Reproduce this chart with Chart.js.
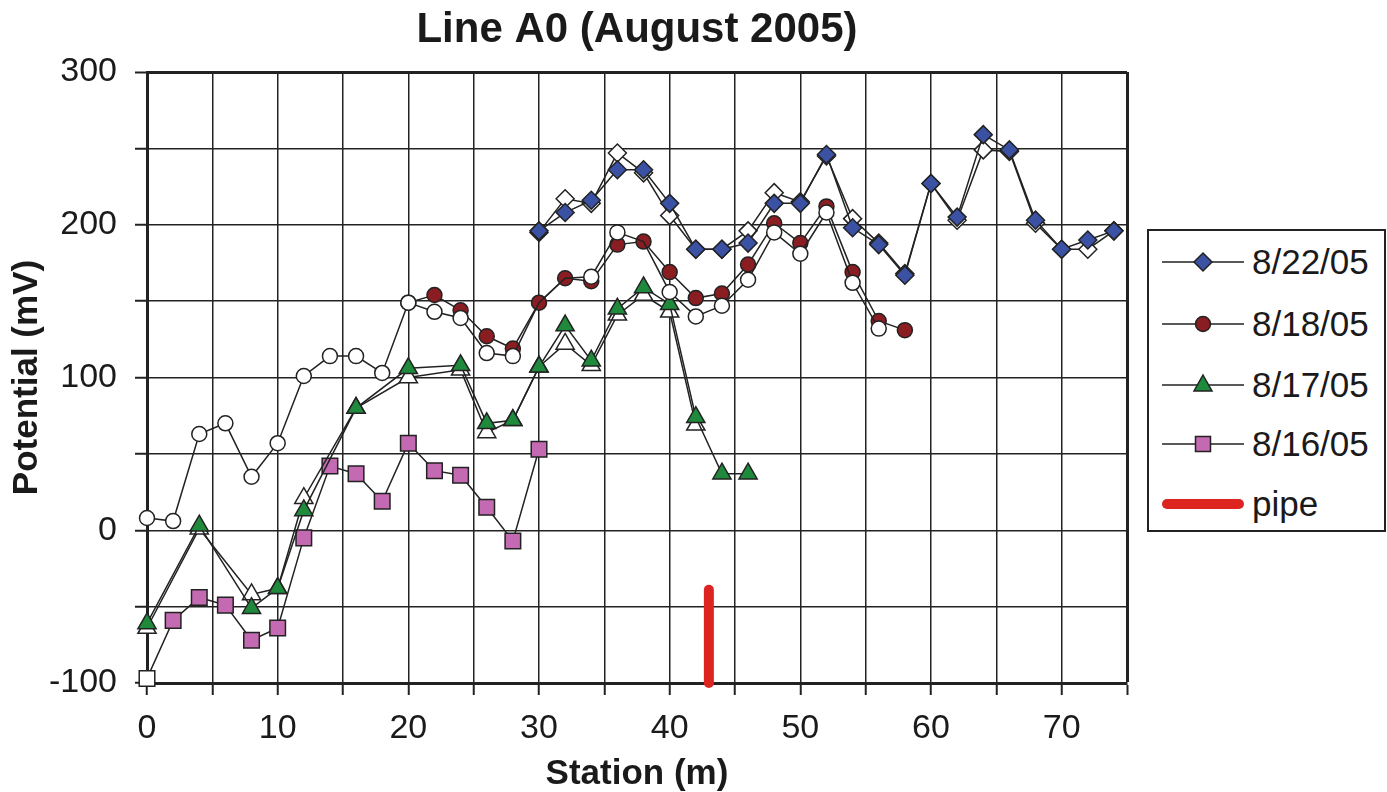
<!DOCTYPE html>
<html>
<head>
<meta charset="utf-8">
<script src="https://cdn.jsdelivr.net/npm/chart.js@4.4.1/dist/chart.umd.min.js"></script>
<style>
  html, body { margin: 0; padding: 0; background: #ffffff; }
  #wrap { position: relative; width: 1387px; height: 792px; }
  #legend {
    position: absolute; left: 1147px; top: 229px; width: 235px; height: 299px;
    border: 2px solid #222; background: #fff;
    font-family: "Liberation Sans", Arial, sans-serif; font-size: 35px; color: #1a1a1a;
  }
  .item { position: absolute; left: 0; height: 40px; display: flex; align-items: center; }
  .item svg { margin-left: 13px; }
  .item span { margin-left: 8px; line-height: 40px; }
</style>
</head>
<body>
<div id="wrap">
  <canvas id="c" width="1387" height="792"></canvas>
  <div id="legend"></div>
</div>
<script>
// ---- Data ----
const chartTitle = "Line A0 (August 2005)";
const xTitle = "Station (m)";
const yTitle = "Potential (mV)";

// 8/22/05 (blue diamonds) and repeat (white diamonds)
const stations22 = [30,32,34,36,38,40,42,44,46,48,50,52,54,56,58,60,62,64,66,68,70,72,74];
const potential22 = [196,208,216,236,236,214,184,184,188,214,214,246,198,187,167,227,205,259,249,203,184,190,196];
const potential22r = [195,217,214,247,234,206,184,184,196,221,215,245,204,188,168,227,203,249,248,201,184,184,196];

// 8/18/05 (dark red circles) and repeat (white circles)
const stations18 = [20,22,24,26,28,30,32,34,36,38,40,42,44,46,48,50,52,54,56,58];
const potential18 = [149,154,144,127,119,149,165,163,187,189,169,152,155,174,201,188,212,169,137,131];
const stations18r = [0,2,4,6,8,10,12,14,16,18,20,22,24,26,28,30,32,34,36,38,40,42,44,46,48,50,52,54,56];
const potential18r = [8,6,63,70,35,57,101,114,114,103,149,143,139,116,114,149,165,166,195,189,156,140,147,164,195,181,208,162,132];

// 8/17/05 (green triangles) and repeat (white triangles)
const stations17 = [0,4,8,10,12,16,20,24,26,28,30,32,34,36,38,40,42,44,46];
const potential17 = [-61,3,-51,-38,13,80,106,108,70,72,107,134,111,145,159,148,74,37,37];
const stations17r = [0,4,8,10,12,16,20,24,26,28,30,32,34,36,38,40,42];
const potential17r = [-64,1,-42,-38,21,80,100,105,64,72,107,122,108,141,154,143,69];

// 8/16/05 (pink squares); first station plotted with a white marker
const stations16 = [0,2,4,6,8,10,12,14,16,18,20,22,24,26,28,30];
const potential16 = [-97,-59,-44,-49,-72,-64,-5,42,37,19,57,39,36,15,-7,53];

// pipe location
const pipeStations = [43,43];
const pipePotential = [-100,-39];

const legendLabels = ["8/22/05","8/18/05","8/17/05","8/16/05","pipe"];

// ---- Styles ----
const BLUE = "#3a51a4", RED = "#8a1d22", GREEN = "#1f8a3c", PINK = "#c46ab2", PIPE = "#dd2420";
const INK = "#222222";
const FONT = "'Liberation Sans', Arial, sans-serif";
// stations where the white repeat circle marker is not drawn (red shows through)
const noMarker18r = [30, 32, 38];

function pts(xs, ys) { return xs.map((x, i) => ({ x: x, y: ys[i] })); }

function series(label, xs, ys, style, fill, radius) {
  return {
    label: label,
    data: pts(xs, ys),
    showLine: true,
    borderColor: INK,
    borderWidth: 1.5,
    pointStyle: style,
    pointRadius: radius,
    pointHoverRadius: radius,
    pointBackgroundColor: fill,
    pointBorderColor: INK,
    pointBorderWidth: 1.5,
    clip: false
  };
}

const white18 = series("8/18/05 repeat", stations18r, potential18r, "circle", "#ffffff", 7.5);
white18.pointRadius = stations18r.map(s => (noMarker18r.includes(s) ? 0 : 7.5));

const datasets = [
  series("8/22/05", stations22, potential22, "rectRot", BLUE, 9),
  series("8/22/05 repeat", stations22, potential22r, "rectRot", "#ffffff", 9),
  white18,
  series("8/18/05", stations18, potential18, "circle", RED, 7.5),
  series("8/17/05", stations17, potential17, "triangle", GREEN, 10.5),
  series("8/17/05 repeat", stations17r, potential17r, "triangle", "#ffffff", 10.5),
  Object.assign(series("8/16/05", stations16, potential16, "rect", PINK, 11),
    { pointBackgroundColor: stations16.map((s, i) => i === 0 ? "#ffffff" : PINK) }),
  {
    label: "pipe",
    data: pts(pipeStations, pipePotential),
    showLine: true,
    borderColor: PIPE,
    borderWidth: 10,
    borderCapStyle: "round",
    pointRadius: 0,
    clip: false
  }
];

new Chart(document.getElementById("c"), {
  type: "scatter",
  data: { datasets: datasets },
  options: {
    responsive: false,
    animation: false,
    events: [],
    layout: { padding: { left: 0, right: 260, top: 0, bottom: 0 } },
    plugins: {
      legend: { display: false },
      tooltip: { enabled: false },
      title: {
        display: true,
        text: chartTitle,
        fullSize: false,
        color: "#1a1a1a",
        font: { family: FONT, size: 42, weight: "bold", lineHeight: 1.2 },
        padding: { top: 5, bottom: 16.6 }
      }
    },
    scales: {
      x: {
        type: "linear",
        min: 0, max: 75,
        afterFit: s => { s.height = 109; },
        ticks: {
          stepSize: 5, autoSkip: false, maxRotation: 0,
          color: "#1a1a1a", padding: 13,
          font: { family: FONT, size: 34 },
          callback: v => (v % 10 === 0 ? String(v) : "")
        },
        grid: {
          color: INK, tickColor: INK, tickLength: 12, tickWidth: 2,
          lineWidth: ctx => (ctx.tick && ctx.tick.value === 75 ? 3 : 1.5)
        },
        border: { color: INK, width: 3 },
        title: {
          display: true, text: xTitle, color: "#1a1a1a",
          font: { family: FONT, size: 35, weight: "bold", lineHeight: 1.0 },
          padding: { top: 0, bottom: 0 }
        }
      },
      y: {
        type: "linear",
        min: -100, max: 300,
        afterFit: s => { s.width = 147; },
        ticks: {
          stepSize: 50, autoSkip: false,
          color: "#1a1a1a", padding: 18,
          font: { family: FONT, size: 34 },
          callback: v => (v % 100 === 0 ? String(v) : "")
        },
        grid: {
          color: INK, tickColor: INK, tickLength: 12, tickWidth: 2,
          lineWidth: ctx => (ctx.tick && ctx.tick.value === 300 ? 3 : 1.5)
        },
        border: { color: INK, width: 3 },
        title: {
          display: true, text: yTitle, color: "#1a1a1a",
          font: { family: FONT, size: 35, weight: "bold", lineHeight: 1.0 },
          padding: { top: 10, bottom: 0 }
        }
      }
    }
  }
});

// ---- HTML legend (line + marker swatches) ----
const legendColors = [BLUE, RED, GREEN, PINK, PIPE];
const legendShapes = ["diamond", "circle", "triangle", "square", "pipe"];
const legendCenters = [31, 93, 154, 213, 273];
const lg = document.getElementById("legend");
legendLabels.forEach((lab, i) => {
  const shape = legendShapes[i], col = legendColors[i];
  let marker = "";
  if (shape === "diamond") marker = `<polygon points="41,11 50,20 41,29 32,20" fill="${col}" stroke="${INK}" stroke-width="1.5"/>`;
  if (shape === "circle") marker = `<circle cx="41" cy="20" r="7.5" fill="${col}" stroke="${INK}" stroke-width="1.5"/>`;
  if (shape === "triangle") marker = `<polygon points="41,10 50,26 32,26" fill="${col}" stroke="${INK}" stroke-width="1.5"/>`;
  if (shape === "square") marker = `<rect x="33.5" y="12.5" width="15" height="15" fill="${col}" stroke="${INK}" stroke-width="1.5"/>`;
  let line = shape === "pipe"
    ? `<line x1="5" y1="20" x2="77" y2="20" stroke="${col}" stroke-width="10" stroke-linecap="round"/>`
    : `<line x1="0" y1="20" x2="82" y2="20" stroke="${INK}" stroke-width="1.5"/>`;
  const div = document.createElement("div");
  div.className = "item";
  div.style.top = (legendCenters[i] - 20) + "px";
  div.innerHTML = `<svg width="82" height="40" viewBox="0 0 82 40">${line}${marker}</svg><span>${lab}</span>`;
  lg.appendChild(div);
});
</script>
</body>
</html>
